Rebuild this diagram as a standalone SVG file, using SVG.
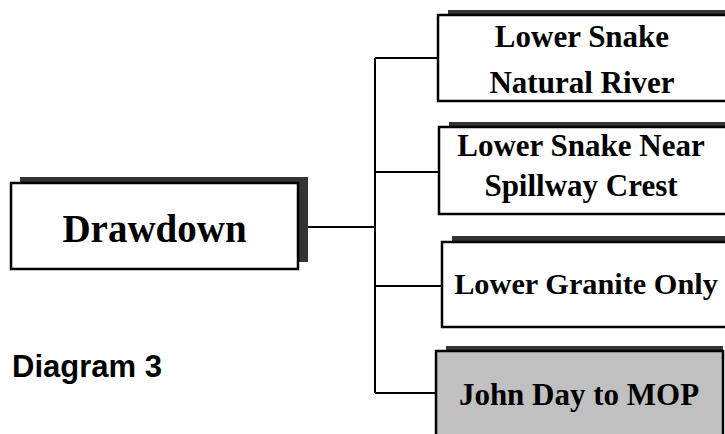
<svg xmlns="http://www.w3.org/2000/svg" width="725" height="434" viewBox="0 0 725 434">
<style>
.shadow{fill:#333333;stroke:none}
.box{fill:#ffffff;stroke:#000000;stroke-width:2.5}
.gray{fill:#c0c0c0}
.t{font-family:"Liberation Serif","Times New Roman",serif;font-weight:bold;fill:#000000;text-anchor:middle}
.conn{stroke:#000000;stroke-width:2;fill:none}
</style>
<rect width="725" height="434" fill="#ffffff"/>
<g id="connectors">
<path class="conn" d="M298 227H375M375 58V393M375 58H438M375 172H439M375 286H442M375 393H436"/>
</g>
<g id="drawdown">
<rect class="shadow" x="20" y="177" width="288" height="85"/>
<rect class="box" x="11" y="183" width="287" height="86"/>
<text class="t" x="154.5" y="242" font-size="39">Drawdown</text>
</g>
<g id="natural-river">
<rect class="shadow" x="448" y="10" width="290" height="86"/>
<rect class="box" x="438" y="15" width="290" height="86"/>
<text class="t" x="582" y="47" font-size="31">Lower Snake</text>
<text class="t" x="582" y="93" font-size="31">Natural River</text>
</g>
<g id="spillway-crest">
<rect class="shadow" x="449" y="122" width="290" height="87"/>
<rect class="box" x="439" y="127" width="290" height="87"/>
<text class="t" x="581" y="156" font-size="31">Lower Snake Near</text>
<text class="t" x="581" y="196" font-size="31">Spillway Crest</text>
</g>
<g id="lower-granite">
<rect class="shadow" x="452" y="236" width="290" height="85"/>
<rect class="box" x="442" y="242" width="290" height="85"/>
<text class="t" x="586" y="294" font-size="30.3">Lower Granite Only</text>
</g>
<g id="john-day">
<rect class="shadow" x="446" y="346" width="277" height="100"/>
<rect class="box gray" x="436" y="351" width="287" height="100"/>
<text class="t" x="579" y="405" font-size="31">John Day to MOP</text>
</g>
<text x="12" y="377" font-family="'Liberation Sans',Arial,sans-serif" font-weight="bold" font-size="31" fill="#000000">Diagram 3</text>
</svg>
